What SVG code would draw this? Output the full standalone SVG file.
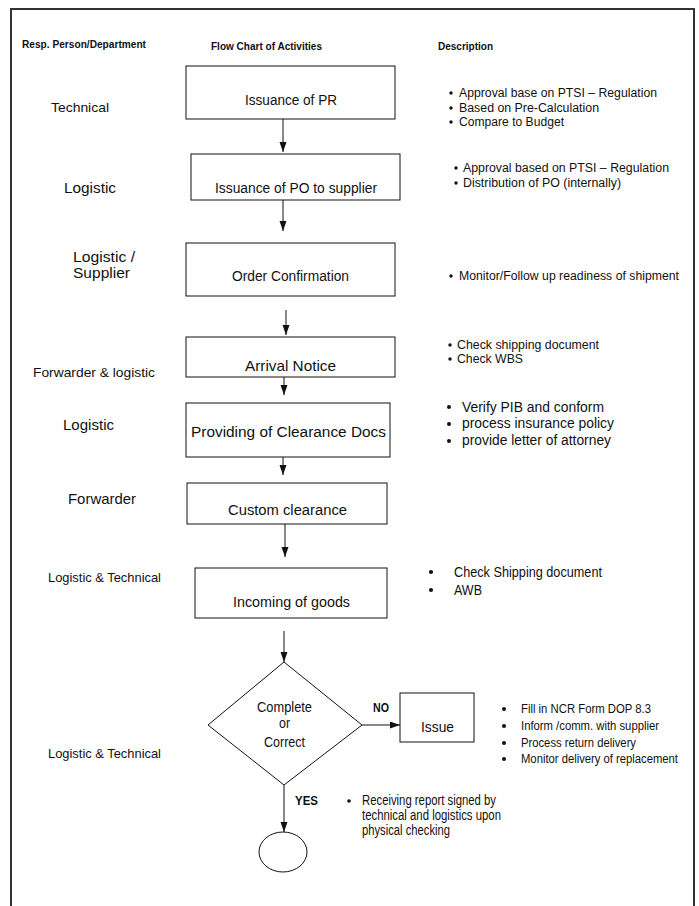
<svg xmlns="http://www.w3.org/2000/svg" width="699" height="906" viewBox="0 0 699 906">
<style>
text{font-family:"Liberation Sans",Arial,sans-serif;fill:#111;}
.h{font-weight:bold;font-size:11px;}
.lbl{font-size:13.5px;}
.lbl2{font-size:15px;}
.bx{font-size:14px;}
.d{font-size:12px;}
.d2{font-size:14px;}
.d3{font-size:12px;}
.yn{font-weight:bold;font-size:12px;}
.node{fill:#fff;stroke:#111;stroke-width:1;}
.conn line{stroke:#111;stroke-width:1;marker-end:url(#ah);}
.bul{fill:#111;}
</style>
<defs>
<marker id="ah" markerUnits="userSpaceOnUse" markerWidth="10" markerHeight="8" refX="10" refY="3.5" orient="auto">
<path d="M0,0 L10,3.5 L0,7 z" fill="#111"/>
</marker>
</defs>
<rect x="0" y="0" width="699" height="906" fill="#fff"/>
<rect x="11" y="9" width="683" height="920" fill="none" stroke="#333" stroke-width="2"/>

<g id="headers">
<text class="h" x="22" y="48" textLength="124" lengthAdjust="spacingAndGlyphs">Resp. Person/Department</text>
<text class="h" x="211" y="50" textLength="111" lengthAdjust="spacingAndGlyphs">Flow Chart of Activities</text>
<text class="h" x="438" y="50" textLength="55" lengthAdjust="spacingAndGlyphs">Description</text>
</g>

<g id="responsible">
<text class="lbl" x="51" y="112" textLength="58" lengthAdjust="spacingAndGlyphs">Technical</text>
<text class="lbl2" x="64" y="193" textLength="52" lengthAdjust="spacingAndGlyphs">Logistic</text>
<text class="lbl2" x="73" y="262" textLength="62" lengthAdjust="spacingAndGlyphs">Logistic /</text>
<text class="lbl2" x="73" y="278" textLength="57" lengthAdjust="spacingAndGlyphs">Supplier</text>
<text class="lbl" x="33" y="377" textLength="122" lengthAdjust="spacingAndGlyphs">Forwarder &amp; logistic</text>
<text class="lbl2" x="63" y="430" textLength="51" lengthAdjust="spacingAndGlyphs">Logistic</text>
<text class="lbl2" x="68" y="504" textLength="68" lengthAdjust="spacingAndGlyphs">Forwarder</text>
<text class="lbl" x="48" y="582" textLength="113" lengthAdjust="spacingAndGlyphs">Logistic &amp; Technical</text>
<text class="lbl" x="48" y="758" textLength="113" lengthAdjust="spacingAndGlyphs">Logistic &amp; Technical</text>
</g>

<g id="n1">
<rect class="node" x="186" y="66" width="209" height="53"/>
<text class="bx" x="245" y="105" textLength="92" lengthAdjust="spacingAndGlyphs">Issuance of PR</text>
</g>
<g id="n2">
<rect class="node" x="191" y="154" width="209" height="46"/>
<text class="bx" x="215" y="193" textLength="162" lengthAdjust="spacingAndGlyphs">Issuance of PO to supplier</text>
</g>
<g id="n3">
<rect class="node" x="186" y="243" width="209" height="53"/>
<text class="bx" x="232" y="281" textLength="117" lengthAdjust="spacingAndGlyphs">Order Confirmation</text>
</g>
<g id="n4">
<rect class="node" x="186" y="337" width="209" height="40"/>
<text class="bx" x="245" y="371" textLength="91" lengthAdjust="spacingAndGlyphs" style="font-size:15px">Arrival Notice</text>
</g>
<g id="n5">
<rect class="node" x="186" y="403" width="204" height="54"/>
<text class="bx" x="191" y="437" textLength="195" lengthAdjust="spacingAndGlyphs" style="font-size:15.5px">Providing of Clearance Docs</text>
</g>
<g id="n6">
<rect class="node" x="187" y="483" width="200" height="41"/>
<text class="bx" x="228" y="515" textLength="119" lengthAdjust="spacingAndGlyphs">Custom clearance</text>
</g>
<g id="n7">
<rect class="node" x="195" y="568" width="192" height="50"/>
<text class="bx" x="233" y="607" textLength="117" lengthAdjust="spacingAndGlyphs" style="font-size:15px">Incoming of goods</text>
</g>
<g id="n8">
<polygon class="node" points="284,662 362,725 284,785 208,725"/>
<text class="bx" x="257" y="712" textLength="55" lengthAdjust="spacingAndGlyphs">Complete</text>
<text class="bx" x="279" y="728" textLength="11" lengthAdjust="spacingAndGlyphs">or</text>
<text class="bx" x="264" y="747" textLength="41" lengthAdjust="spacingAndGlyphs">Correct</text>
</g>
<g id="n9">
<rect class="node" x="400" y="693" width="74" height="49"/>
<text class="bx" x="421" y="732" textLength="33" lengthAdjust="spacingAndGlyphs" style="font-size:15px">Issue</text>
</g>
<g id="n10">
<ellipse class="node" cx="283" cy="852" rx="24" ry="20"/>
</g>

<g id="connectors" class="conn">
<line x1="283" y1="119" x2="283" y2="152"/>
<line x1="283" y1="200" x2="283" y2="231"/>
<line x1="286" y1="310" x2="286" y2="335"/>
<line x1="284" y1="377" x2="284" y2="395"/>
<line x1="283" y1="457" x2="283" y2="475"/>
<line x1="285" y1="524" x2="285" y2="557"/>
<line x1="284" y1="631" x2="284" y2="662"/>
<line x1="362" y1="725" x2="400" y2="725"/>
<line x1="284" y1="785" x2="284" y2="832"/>
<text class="yn" x="373" y="712" textLength="16" lengthAdjust="spacingAndGlyphs">NO</text>
<text class="yn" x="295" y="805" textLength="23" lengthAdjust="spacingAndGlyphs">YES</text>
</g>

<g id="desc1">
<circle class="bul" cx="451" cy="93" r="1.7"/>
<circle class="bul" cx="451" cy="108" r="1.7"/>
<circle class="bul" cx="451" cy="122" r="1.7"/>
<text class="d" x="459" y="97" textLength="198" lengthAdjust="spacingAndGlyphs">Approval base on PTSI – Regulation</text>
<text class="d" x="459" y="112" textLength="140" lengthAdjust="spacingAndGlyphs">Based on Pre-Calculation</text>
<text class="d" x="459" y="126" textLength="105" lengthAdjust="spacingAndGlyphs">Compare to Budget</text>
</g>
<g id="desc2">
<circle class="bul" cx="456" cy="168" r="1.7"/>
<circle class="bul" cx="456" cy="183" r="1.7"/>
<text class="d" x="463" y="172" textLength="206" lengthAdjust="spacingAndGlyphs">Approval based on PTSI – Regulation</text>
<text class="d" x="463" y="187" textLength="158" lengthAdjust="spacingAndGlyphs">Distribution of PO (internally)</text>
</g>
<g id="desc3">
<circle class="bul" cx="451" cy="276" r="1.7"/>
<text class="d" x="459" y="280" textLength="220" lengthAdjust="spacingAndGlyphs">Monitor/Follow up readiness of shipment</text>
</g>
<g id="desc4">
<circle class="bul" cx="450" cy="345" r="1.7"/>
<circle class="bul" cx="450" cy="359" r="1.7"/>
<text class="d" x="457" y="349" textLength="142" lengthAdjust="spacingAndGlyphs">Check shipping document</text>
<text class="d" x="457" y="363" textLength="66" lengthAdjust="spacingAndGlyphs">Check WBS</text>
</g>
<g id="desc5">
<circle class="bul" cx="449" cy="407" r="2"/>
<circle class="bul" cx="449" cy="424" r="2"/>
<circle class="bul" cx="449" cy="441" r="2"/>
<text class="d2" x="462" y="412" textLength="142" lengthAdjust="spacingAndGlyphs">Verify PIB and conform</text>
<text class="d2" x="462" y="428" textLength="152" lengthAdjust="spacingAndGlyphs">process insurance policy</text>
<text class="d2" x="462" y="445" textLength="149" lengthAdjust="spacingAndGlyphs">provide letter of attorney</text>
</g>
<g id="desc6">
<circle class="bul" cx="431" cy="572" r="2.1"/>
<circle class="bul" cx="431" cy="590" r="2.1"/>
<text class="d2" x="454" y="577" textLength="148" lengthAdjust="spacingAndGlyphs">Check Shipping document</text>
<text class="d2" x="454" y="595" textLength="28" lengthAdjust="spacingAndGlyphs">AWB</text>
</g>
<g id="desc7">
<circle class="bul" cx="504" cy="709" r="2"/>
<circle class="bul" cx="504" cy="726" r="2"/>
<circle class="bul" cx="504" cy="743" r="2"/>
<circle class="bul" cx="504" cy="759" r="2"/>
<text class="d3" x="521" y="713" textLength="130" lengthAdjust="spacingAndGlyphs">Fill in NCR Form DOP 8.3</text>
<text class="d3" x="521" y="730" textLength="138" lengthAdjust="spacingAndGlyphs">Inform /comm. with supplier</text>
<text class="d3" x="521" y="747" textLength="115" lengthAdjust="spacingAndGlyphs">Process return delivery</text>
<text class="d3" x="521" y="763" textLength="157" lengthAdjust="spacingAndGlyphs">Monitor delivery of replacement</text>
</g>
<g id="desc8">
<circle class="bul" cx="349" cy="801" r="1.8"/>
<text class="d2" x="362" y="805" textLength="134" lengthAdjust="spacingAndGlyphs">Receiving report signed by</text>
<text class="d2" x="362" y="820" textLength="139" lengthAdjust="spacingAndGlyphs">technical and logistics upon</text>
<text class="d2" x="362" y="835" textLength="88" lengthAdjust="spacingAndGlyphs">physical checking</text>
</g>
</svg>
